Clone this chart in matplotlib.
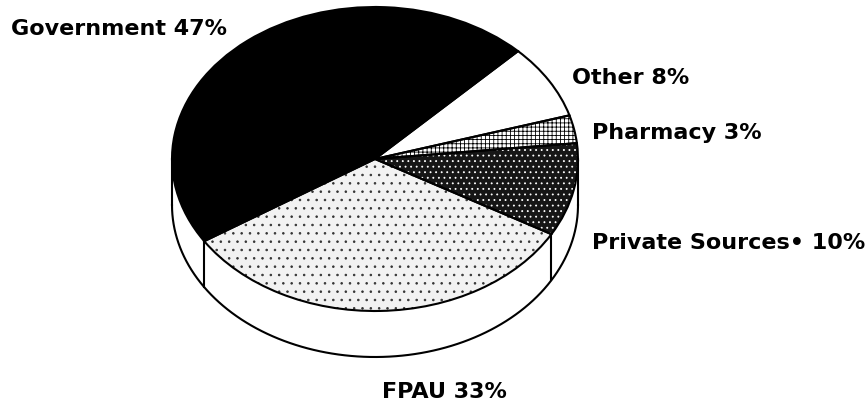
import numpy as np
import matplotlib
matplotlib.use('Agg')
import matplotlib.pyplot as plt

# slices, counterclockwise from the start angle
nomes = ['Pharmacy', 'Other', 'Government', 'FPAU', 'Private Sources']
valores = [3, 8, 47, 33, 10]
rotulos = ['Pharmacy 3%', 'Other 8%', 'Government 47%', 'FPAU 33%', 'Private Sources\u2022 10%']

# look of each slice: face, hatch, hatch colour
faces = ['white', 'white', 'black', '#f2f2f2', '#161616']
hachuras = ['++++', None, None, '..', '...']
cor_hachura = ['black', 'white', 'black', '#333333', 'white']

W, H = 868, 403
cx, cy = 375, 159      # centre of the top ellipse, pixels
rx, ry = 203, 152      # radii, pixels
prof = 46 / ry         # depth of the rim, data units
inicio = 6

plt.rcParams['hatch.linewidth'] = 0.6

fig = plt.figure(figsize=(W / 100, H / 100), dpi=100)
ax = fig.add_axes([0, 0, 1, 1])

# rim (front half, shifted down)
t = np.linspace(np.pi, 2 * np.pi, 200)
xs = np.cos(t)
ax.fill(np.concatenate([xs, xs[::-1]]),
        np.concatenate([np.sin(t), np.sin(t[::-1]) - prof]),
        facecolor='white', edgecolor='none', zorder=1)
ax.plot(xs, np.sin(t) - prof, color='black', lw=1.5, zorder=2)
for a in [180, 360]:
    r = np.radians(a)
    ax.plot([np.cos(r)] * 2, [np.sin(r), np.sin(r) - prof], color='black', lw=1.5, zorder=2)

# vertical lines of the rim at slice borders on the front
fracs = np.array(valores) / sum(valores)
bordas = inicio + 360 * np.cumsum(np.concatenate([[0], fracs]))
for a in bordas:
    a = a % 360
    if 180 < a < 360:
        r = np.radians(a)
        ax.plot([np.cos(r)] * 2, [np.sin(r), np.sin(r) - prof], color='black', lw=1.5, zorder=2)

# top: textures first, outlines on top
fatias, _ = ax.pie(valores, startangle=inicio, radius=1, center=(0, 0),
                   wedgeprops=dict(linewidth=0))
for w, f, h, c in zip(fatias, faces, hachuras, cor_hachura):
    w.set_facecolor(f)
    w.set_edgecolor(c)
    w.set_hatch(h)
    w.set_zorder(3)
contorno, _ = ax.pie(valores, startangle=inicio, radius=1, center=(0, 0),
                     wedgeprops=dict(linewidth=1.5, edgecolor='black', facecolor='none'))
for w in contorno:
    w.set_zorder(4)

ax.set_aspect('auto')
ax.set_xlim(-cx / rx, (W - cx) / rx)
ax.set_ylim((cy - H) / ry, cy / ry)
ax.axis('off')


def px(x, y):
    return (x - cx) / rx, (cy - y) / ry


# label anchors in pixels (left/centre, baseline)
pos_rotulos = [(592, 139, 'left'), (572, 84, 'left'), (11, 35, 'left'),
               (444, 398, 'center'), (592, 249, 'left')]
for txt, (x, y, ha) in zip(rotulos, pos_rotulos):
    ax.text(*px(x, y), txt, ha=ha, va='baseline', fontsize=16,
            fontweight='bold', family=['DejaVu Sans'], zorder=5)

fig.savefig('out.png', dpi=100)
